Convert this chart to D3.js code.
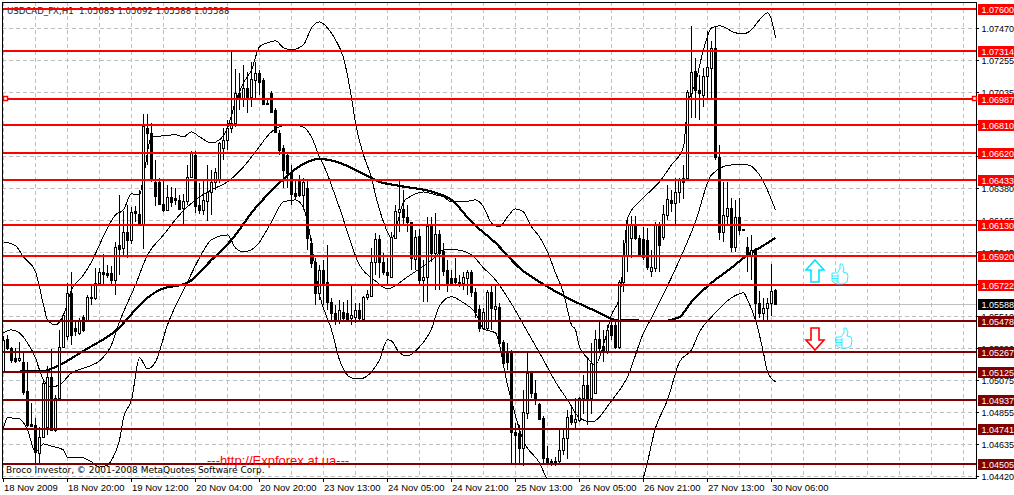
<!DOCTYPE html>
<html><head><meta charset="utf-8">
<script src="https://cdnjs.cloudflare.com/ajax/libs/d3/7.8.5/d3.min.js"></script>
<style>html,body{margin:0;padding:0;background:#fff;overflow:hidden}svg{display:block}text{font-family:"DejaVu Sans",sans-serif}.lib{font-family:"Liberation Sans",sans-serif}</style>
</head><body><svg id="c" width="1014" height="495"></svg>
<script>
// prices in 1e-5 units
const opens=[105128,105354,105293,105224,105210,105197,104999,104775,104768,104577,
104686,104754,105094,104734,104952,105299,105374,105667,105429,105395,
105503,105476,105633,105633,105735,105810,105803,105803,105755,105994,
105973,106082,106028,106225,106205,106136,106790,106756,106423,106423,
106273,106232,106320,106314,106300,106246,106293,106457,106606,106266,
106232,106293,106354,106423,106436,106654,106709,106790,106824,107029,
106995,107063,107002,107117,107165,107117,106961,107029,106913,106756,
106654,106606,106491,106348,106443,106334,106382,106007,105878,105667,
105823,105742,105605,105530,105483,105537,105530,105497,105503,105551,
105490,105640,105646,105878,106034,105878,105810,105776,106041,106218,
106239,106184,106150,105898,106055,105755,105776,106123,105939,106068,
105953,105823,105769,105769,105742,105735,105769,105810,105673,105558,
105429,105429,105673,105558,105572,105333,105265,105265,104720,104713,
104611,104849,105122,104986,104911,104816,104543,104522,104522,104522,
104597,104679,104836,104788,104802,104952,105040,104952,104986,105354,
105306,105265,105449,105449,105299,105742,105925,106041,106130,106041,
106034,106028,105816,105837,106130,106048,106198,106300,106280,106354,
106450,106450,107029,107178,107049,107015,107144,107199,107335,106593,
106082,106191,106246,105980,106184,106102,105980,105925,105960,105599,
105530,105565,105599,105683];
const closes=[105347,105293,105210,105204,105224,104992,104768,104761,104584,104686,
105054,105094,104734,104952,105299,105517,105667,105381,105408,105483,
105415,105640,105640,105735,105810,105796,105789,105755,105980,105967,
106082,106028,106218,106211,106136,106804,106756,106436,106327,106273,
106232,106320,106286,106300,106239,106293,106457,106620,106259,106232,
106300,106354,106423,106491,106688,106709,106790,106824,107029,106995,
107063,106995,107124,107165,107104,106954,106954,106899,106763,106641,
106504,106484,106341,106327,106334,106423,106041,105871,105667,105823,
105735,105605,105530,105483,105551,105497,105490,105517,105551,105497,
105640,105660,105878,106034,105878,105810,105789,106048,106225,106239,
106184,106150,105905,106048,105755,105776,106123,105939,106068,105939,
105816,105735,105735,105742,105728,105776,105810,105673,105537,105429,
105537,105673,105565,105578,105326,105190,105197,104720,104700,104611,
104856,105122,104986,104938,104809,104543,104516,104516,104516,104597,
104679,104822,104788,104809,104952,105040,104952,105190,105354,105293,
105265,105415,105381,105299,105742,105925,106130,106130,106041,105925,
105912,105844,105844,106130,105994,106205,106307,106280,106354,106436,
106423,107036,107172,107049,107029,107144,107205,107335,106593,106082,
106198,106246,105980,106184,106096,106096,105925,105960,105599,105530,
105565,105599,105680,105588];
const highs=[105374,105381,105300,105293,105333,105258,105197,104918,104816,104754,
105074,105169,105286,104972,105415,105530,105735,105810,105483,105497,
105517,105653,105721,105837,105837,105932,105857,105850,106014,106334,
106225,106266,106252,106259,106368,106886,106886,106824,106572,106450,
106436,106402,106388,106382,106334,106341,106538,106634,106634,106416,
106436,106538,106504,106518,106695,106790,106845,107308,107192,107165,
107219,107172,107240,107240,107185,107131,106981,107042,106926,106777,
106675,106627,106538,106436,106470,106450,106436,106041,105905,105857,
105891,105994,105633,105585,105619,105605,105619,105714,105599,105599,
105646,105687,105973,106075,106061,105939,105905,106082,106266,106429,
106368,106266,106150,106096,106102,105891,106184,106184,106211,106096,
106007,105891,105823,105905,105789,105810,105823,105823,105701,105585,
105565,105687,105721,105714,105599,105347,105326,105279,104781,104768,
105006,105265,105122,105074,104918,104829,104624,104536,104550,104734,
104747,104870,104904,104952,104959,105108,105231,105326,105415,105483,
105415,105449,105497,105483,105755,106028,106184,106191,106191,106061,
106116,106109,105960,106150,106150,106266,106402,106368,106450,106450,
106538,107049,107485,107267,107151,107199,107451,107383,107485,106675,
106423,106423,106314,106300,106314,106102,106048,106061,105973,105680,
105633,105633,105864,105692];
const lows=[105122,105279,105190,105190,105197,104972,104754,104754,104509,104509,
104686,104700,104727,104720,104938,105293,105347,105313,105374,105381,
105402,105469,105585,105619,105721,105721,105769,105721,105653,105789,
105912,105905,106000,106150,106130,105967,106538,106423,106259,106266,
106218,106225,106252,106266,106232,106123,106266,106450,106211,106205,
106198,106157,106198,106368,106416,106572,106641,106756,106797,106913,
106934,106893,106934,106981,107015,106947,106947,106893,106756,106606,
106382,106382,106266,106300,106320,106232,105960,105837,105585,105619,
105585,105551,105469,105449,105456,105469,105469,105449,105462,105483,
105469,105619,105640,105789,105769,105789,105721,105769,106041,106082,
106130,106082,105823,105823,105714,105605,105605,105878,105687,105687,
105782,105673,105721,105721,105708,105687,105653,105640,105497,105401,
105415,105415,105415,105483,105313,105163,105142,104509,104509,104509,
104488,104809,104952,104904,104802,104495,104495,104488,104488,104509,
104563,104536,104768,104747,104788,104843,104768,104843,104979,105265,
105197,105252,105347,105286,105286,105673,105810,105905,106028,105912,
105891,105823,105776,105810,105810,106028,106164,106218,106130,106280,
106307,106436,106858,106858,106845,106934,106995,106995,106572,106028,
106014,106130,105946,105946,106061,106089,105810,105755,105497,105497,
105483,105476,105510,105588];

const upperBars=[0,3,5,8,10,11,13,15,17,20,22,24,26,28,30,32,34,35,37,40,43,45,47,49,52,54,56,58,60,62,64,66,68,70,72,75,77,79,81,83,85,87,88,90,92,93,95,97,98,99,100,102,105,108,110,112,115,118,120,122,124,126,128,130,132,134,136,138,140,142,143,144,146,148,150,152,154,155,156,160,164,167,170,171,173,175,177,179,183,185,187,189,191,192,193];
const upperBand=[106014,105987,105912,105810,105585,105483,105449,105517,105687,105789,105878,105994,106109,106198,106232,106341,106334,106457,106729,106736,106743,106729,106763,106729,106688,106709,106790,106967,107097,107185,107342,107369,107383,107335,107322,107356,107471,107512,107471,107390,107267,106995,106824,106606,106450,106334,106150,106041,106082,106198,106286,106327,106354,106334,106320,106286,106286,106300,106252,106143,106116,106184,106239,106218,106116,106048,105946,105803,105667,105449,105415,105299,105224,105176,105313,105517,105633,105878,106177,106314,106423,106538,106661,106933,107097,107322,107471,107485,107437,107431,107458,107526,107573,107526,107403];
const midBars=[0,2,4,6,8,9,10,12,14,17,21,24,27,29,33,36,40,44,48,52,56,60,63,67,70,74,77,79,80,84,89,93,96,101,108,110,113,117,120,123,127,131,135,138,141,144,147,152,156,160,162,169,173,177,182,186,189,193];
const midBand=[105394,105415,105394,105326,105224,105142,105074,105027,105040,105122,105163,105204,105313,105469,105721,105925,106061,106198,106300,106368,106423,106525,106627,106763,106804,106804,106729,106593,106538,106245,105857,105748,105694,105776,105912,105960,105960,105925,105837,105755,105592,105401,105210,105061,104938,104816,104788,104932,105095,105394,105497,105891,106150,106470,106538,106538,106470,106232];
const lowerBars=[0,1,4,6,8,10,12,15,16,19,22,24,26,28,29,30,32,34,36,38,41,46,49,52,56,58,60,63,67,70,73,75,76,79,82,84,87,89,92,94,96,97,99,101,104,107,109,112,115,118,120,123,126,130,134,136,141,148,154,158,160,163,166,169,172,174,177,182,185,186,188,190,191,193];
const lowerBand=[104747,104816,104809,104734,104584,104638,104624,104597,104549,104549,104516,104481,104495,104584,104665,104816,104938,105224,105149,105197,105449,105742,105905,106028,106061,105973,105946,105980,106150,106286,106300,106245,106150,105653,105415,105210,105088,105081,105129,105210,105347,105340,105258,105238,105299,105422,105578,105640,105599,105531,105422,105394,105040,104658,104509,104393,104257,104120,104222,104325,104413,104747,104938,105197,105279,105401,105503,105633,105667,105619,105483,105258,105129,105061];
const maBars=[0,10,14,20,28,36,39,46,52,57,63,69,75,79,84,89,94,99,108,112,117,123,129,136,142,149,153,165,169,172,177,182,186,189,193];
const maLine=[105129,105135,105176,105272,105408,105633,105687,105735,105891,106028,106245,106416,106545,106579,106552,106491,106423,106395,106348,106300,106150,106007,105837,105708,105619,105531,105483,105476,105503,105605,105735,105837,105925,105973,106041];

const resistance=["1.07600","1.07314","1.06987","1.06810","1.06620","1.06433","1.06130","1.05920","1.05722"];
const support=["1.05478","1.05267","1.05125","1.04937","1.04741","1.04505"];
const priceTicks=["1.07470","1.07255","1.07035","1.06815","1.06600","1.06380","1.06165","1.05945","1.05730","1.05510","1.05290","1.05075","1.04855","1.04635","1.04420"];
const hiddenTicks=["1.06815","1.06600","1.05730"];
const timeBars=[0,16,32,48,64,80,96,112,128,144,160,176,192];
const timeLabels=["18 Nov 2009","18 Nov 20:00","19 Nov 12:00","20 Nov 04:00","20 Nov 20:00","23 Nov 13:00","24 Nov 05:00","24 Nov 21:00","25 Nov 13:00","26 Nov 05:00","26 Nov 21:00","27 Nov 13:00","30 Nov 06:00"];
const gridBars=d3.range(0,250,8);
const lastPrice="1.05588";
const header="USDCAD_FX,H1  1.05683 1.05692 1.05588 1.05588";

const svg=d3.select("#c");
const L=2,T=2,R=976,B=478;
const x=d3.scaleLinear().domain([0,192]).range([3,771]);
const y=d3.scaleLinear().domain([1.0442,1.0747]).range([476,28]);
const yi=v=>Math.round(y(v));
const P=v=>v/1e5;

svg.append("defs").append("clipPath").attr("id","plot").append("rect").attr("x",L).attr("y",T).attr("width",R-L).attr("height",B-T);
const plot=svg.append("g").attr("clip-path","url(#plot)");

// grid
const gridCol="#c0c0c0";
plot.append("g").selectAll("line").data(priceTicks).join("line")
 .attr("x1",L).attr("x2",R).attr("y1",d=>yi(+d)+.5).attr("y2",d=>yi(+d)+.5)
 .attr("stroke",gridCol).attr("stroke-dasharray","4 3");
plot.append("g").selectAll("line").data(gridBars).join("line")
 .attr("x1",d=>x(d)+.5).attr("x2",d=>x(d)+.5).attr("y1",T).attr("y2",B)
 .attr("stroke",gridCol).attr("stroke-dasharray","4 3");
// bid line
plot.append("line").attr("x1",L).attr("x2",R).attr("y1",yi(+lastPrice)+.5).attr("y2",yi(+lastPrice)+.5).attr("stroke","#c0c0c0");

// thin lines + thick MA
const line=(bars,vals,w)=>plot.append("path")
 .attr("d",d3.line().x((d,i)=>x(bars[i])+.5).y(d=>y(P(d))).curve(d3.curveMonotoneX)(vals))
 .attr("fill","none").attr("stroke","#000").attr("stroke-width",w).attr("stroke-linejoin","round").attr("shape-rendering","crispEdges");
line(upperBars,upperBand,1);line(midBars,midBand,1);line(lowerBars,lowerBand,1);
line(maBars,maLine,2.2);

// candles
const idx=d3.range(opens.length);
const cg=plot.append("g").attr("shape-rendering","crispEdges");
cg.selectAll("rect.w").data(idx).join("rect").attr("class","w")
 .attr("x",i=>x(i)).attr("width",1).attr("y",i=>yi(P(highs[i])))
 .attr("height",i=>Math.max(1,yi(P(lows[i]))-yi(P(highs[i])))).attr("fill","#000");
cg.selectAll("rect.b").data(idx).join("rect").attr("class","b")
 .attr("x",i=>x(i)-1+.5).attr("width",2)
 .attr("y",i=>yi(P(Math.max(opens[i],closes[i])))+.5)
 .attr("height",i=>Math.max(1,Math.abs(yi(P(opens[i]))-yi(P(closes[i])))))
 .attr("fill",i=>closes[i]>=opens[i]?"#fff":"#000").attr("stroke","#000");

// header under the levels
svg.append("text").attr("x",7).attr("y",14).attr("font-size",8.6).attr("fill","#222").attr("xml:space","preserve").text(header);

// levels
const levels=svg.append("g").attr("shape-rendering","crispEdges");
const level=(list,col)=>levels.append("g").selectAll("rect").data(list).join("rect")
 .attr("x",L+1).attr("width",R-L).attr("y",d=>yi(+d)-1).attr("height",2).attr("fill",col);
level(resistance,"#ff0000");level(support,"#800000");

// frame
svg.append("rect").attr("x",L+.5).attr("y",T+.5).attr("width",R-L).attr("height",B-T).attr("fill","none").attr("stroke","#000").attr("shape-rendering","crispEdges");

// right axis
const ax=svg.append("g");
priceTicks.forEach(t=>{
 ax.append("line").attr("x1",R).attr("x2",R+3).attr("y1",yi(+t)+.5).attr("y2",yi(+t)+.5).attr("stroke","#000");
 if(!hiddenTicks.includes(t)) ax.append("text").attr("class","lib").attr("x",981.5).attr("y",yi(+t)+4).attr("font-size",9).attr("fill","#000").text(t);
});
// bottom axis
timeBars.forEach((b,i)=>{
 ax.append("line").attr("x1",x(b)+.5).attr("x2",x(b)+.5).attr("y1",B).attr("y2",B+4).attr("stroke","#000");
 ax.append("text").attr("class","lib").attr("x",x(b)+1).attr("y",491).attr("font-size",9.5).attr("fill","#000").text(timeLabels[i]);
});
// boxes
const box=(t,col)=>{
 const c=yi(+t);
 ax.append("rect").attr("x",978).attr("y",c-5).attr("width",36).attr("height",11).attr("fill",col);
 ax.append("text").attr("class","lib").attr("x",981.5).attr("y",c+4).attr("font-size",9).attr("fill","#fff").text(t);
};
resistance.forEach(t=>box(t,"#ff0000"));support.forEach(t=>box(t,"#800000"));box(lastPrice,"#000");

// handles on the selected level
[3,972].forEach(px=>svg.append("rect").attr("x",px+.5).attr("y",yi(1.06987)-2.5).attr("width",4).attr("height",4).attr("fill","#fff").attr("stroke","#ff0000").attr("stroke-width",1.4));

// signal arrows
const aUp=[[815,260],[824,270],[819,270],[819,282],[811,282],[811,270],[806,270]];
const aDn=[[815,350],[824,340],[819,340],[819,328],[811,328],[811,340],[806,340]];
const poly=(p,col)=>svg.append("path").attr("d",d3.line().curve(d3.curveLinearClosed)(p)).attr("fill","#fff").attr("stroke",col).attr("stroke-width",1.6);
poly(aUp,"#00e5ff");poly(aDn,"#ff0000");

// thumbs
const thumb=(ox,oy)=>{
 const g=svg.append("g").attr("transform",`translate(${ox},${oy})`).attr("fill","#fff").attr("stroke","#00e5ff").attr("stroke-width",.8);
 g.append("path").attr("d","M1,9 L6,9 L9,5 L9,0 L11,0 L13,4 L12,8 L16,9 L17,12 L16,18 L12,20 L6,20 L3,19 L1,17 Z");
 g.append("path").attr("d","M1,12 L7,12 M1,14.5 L7,14.5 M2,17 L7,17 M7,10 L7,19").attr("fill","none");
};
thumb(831,264);thumb(835,328);

// footer texts
svg.append("text").attr("x",6).attr("y",473).attr("font-size",9).attr("fill","#000").text("Broco Investor, © 2001-2008 MetaQuotes Software Corp.");
svg.append("text").attr("class","lib").attr("x",207).attr("y",465).attr("font-size",13).attr("fill","#ff0000").text("---http://Expforex.at.ua---");
</script></body></html>
